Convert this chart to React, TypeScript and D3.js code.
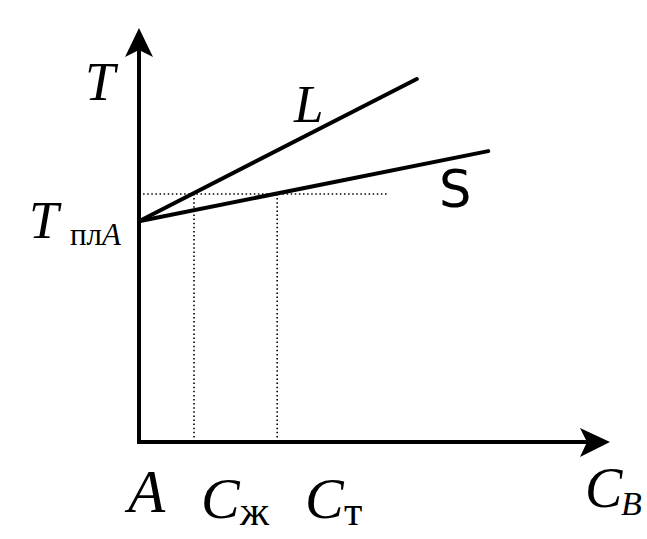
import React from "react";
import * as d3 from "d3";

// Abstract phase-diagram data (composition C_B vs temperature T)
const xDomain = [0, 10];
const yDomain = [0, 10];
const meltingPointA = [0, 5.36];
const liquidusEnd = [5.91, 8.81];
const solidusEnd = [7.43, 7.06];
const isothermT = 6.02;
const isothermEndX = 5.28;
const liquidComposition = 1.17; // C_ж
const solidComposition = 2.94; // C_т

const W = 647;
const H = 539;

const FAMILY = "Liberation Serif";
const serif = { fontFamily: FAMILY };
const serifIt = { fontFamily: FAMILY, fontStyle: "italic" as const };

export default function App() {
  const x = d3.scaleLinear().domain(xDomain).range([139, 609]);
  const y = d3.scaleLinear().domain(yDomain).range([442, 30]);
  const line = d3.line<number[]>().x((d) => x(d[0])).y((d) => y(d[1]));

  const x0 = x(0);
  const y0 = y(0);

  return (
    <svg
      width={W}
      height={H}
      style={{ position: "absolute", left: 0, top: 0, background: "#fff" }}
    >
      <rect width={W} height={H} fill="#fff" />
      {/* dotted guides */}
      <g stroke="#000" strokeWidth={1.6} strokeDasharray="1.5,2.6" fill="none">
        <path d={line([[0, isothermT], [isothermEndX, isothermT]]) || ""} />
        <path d={line([[liquidComposition, isothermT], [liquidComposition, 0]]) || ""} />
        <path d={line([[solidComposition, isothermT], [solidComposition, 0]]) || ""} />
      </g>
      {/* axes */}
      <g stroke="#000" strokeWidth={4} fill="none">
        <line x1={x0} y1={y0 + 2} x2={x0} y2={50} />
        <line x1={x0 - 2} y1={y0} x2={590} y2={y0} />
      </g>
      <path d={`M${x0},28 L${x0 + 14},57 L${x0},50 L${x0 - 14},57 Z`} fill="#000" />
      <path d={`M610,${y0} L580,${y0 - 14} L587,${y0} L580,${y0 + 15} Z`} fill="#000" />
      {/* liquidus & solidus */}
      <g stroke="#000" strokeWidth={4} fill="none" strokeLinecap="round">
        <path d={line([meltingPointA, liquidusEnd]) || ""} />
        <path d={line([meltingPointA, solidusEnd]) || ""} />
      </g>
      {/* labels */}
      <text x={85} y={100} fontSize={54} style={serifIt}>T</text>
      <text x={294} y={122} fontSize={53} style={serifIt}>L</text>
      <text x={439} y={207} fontSize={51} style={{ fontFamily: "DejaVu Sans" }}>S</text>
      <text x={29} y={238} fontSize={53} style={serifIt}>T</text>
      <text x={70} y={245} fontSize={31} style={serif}>
        пл<tspan style={{ fontStyle: "italic" }}>A</tspan>
      </text>
      <text x={128} y={512} fontSize={61} style={serifIt}>A</text>
      <text x={201} y={518} fontSize={58} style={serifIt}>C</text>
      <text x={240} y={525} fontSize={42} style={serif}>ж</text>
      <text x={305} y={518} fontSize={58} style={serifIt}>C</text>
      <text x={344} y={525} fontSize={42} style={serif}>т</text>
      <text x={585} y={507} fontSize={56} style={serifIt}>C</text>
      <text x={621} y={515} fontSize={34} style={serifIt}>B</text>
    </svg>
  );
}
